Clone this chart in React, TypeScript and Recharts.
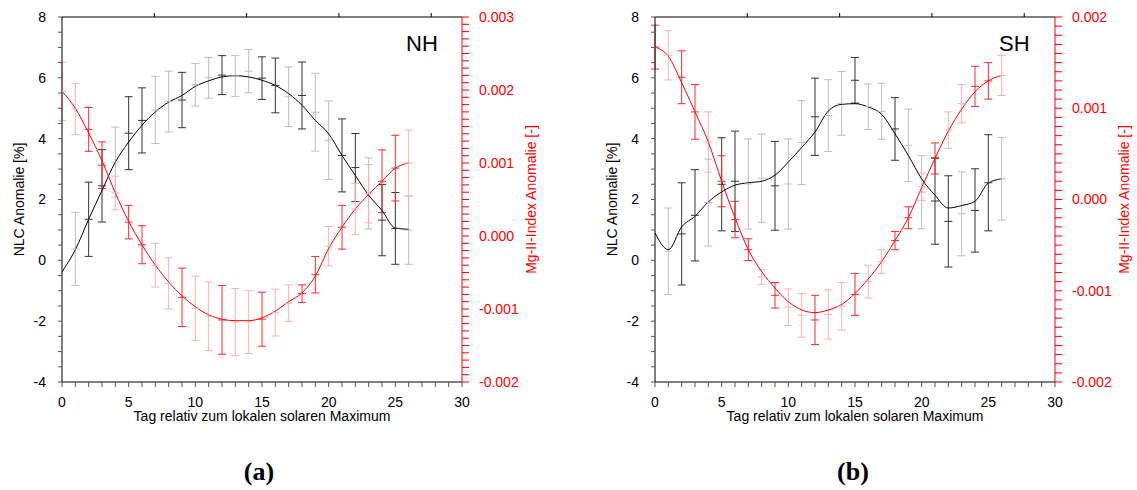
import { ComposedChart, Line, Scatter, ErrorBar, XAxis, YAxis } from 'recharts';

// Tage relativ zum lokalen solaren Maximum
const days = Array.from({ length: 27 }, (_, i) => i);

// NH: NLC (schwarz)
const nhBlackLine = [-0.38, 0.35, 1.35, 2.3, 3.23, 3.89, 4.44, 4.88, 5.2, 5.42, 5.72, 5.9, 6.03, 6.07, 6.03, 5.92, 5.75, 5.48, 5.1, 4.6, 4.16, 3.45, 2.79, 2.14, 1.64, 1.06, 1.02];
const nhBlackMean = [null, 0.37, 1.35, 2.45, 3.23, 4.18, 4.6, 4.94, 5.22, 5.27, 5.77, 6.0, 6.09, 6.06, 6.22, 5.99, 5.75, 5.38, 5.42, 4.87, 3.95, 3.45, 3.05, 2.2, 1.32, 1.05, 0.99];
const nhBlackErr = [null, 1.2, 1.22, 1.19, 1.15, 1.2, 1.07, 1.1, 1.0, 0.91, 0.7, 0.67, 0.64, 0.67, 0.71, 0.7, 0.9, 0.98, 1.1, 1.28, 1.29, 1.2, 1.12, 1.17, 1.17, 1.18, 1.12];
const nhBlackSig = [0, 0, 1, 1, 0, 1, 1, 0, 0, 1, 0, 0, 1, 0, 0, 1, 1, 0, 1, 0, 0, 1, 1, 0, 1, 1, 0];

// NH: Mg-II (rot)
const nhRedLine = [0.00198, 0.00175, 0.00141, 0.00103, 0.00059, 0.0002, -0.00012, -0.0004, -0.00063, -0.00082, -0.00097, -0.00108, -0.00114, -0.00116, -0.00116, -0.00112, -0.00103, -0.0009, -0.00078, -0.00055, -0.00017, 0.00012, 0.00037, 0.00057, 0.00075, 0.00093, 0.001];
const nhRedMean = [0.00198, 0.00174, 0.00146, 0.00097, 0.00059, 0.00019, -0.00012, -0.0004, -0.00065, -0.00084, -0.00099, -0.0011, -0.00115, -0.00118, -0.00118, -0.00114, -0.00105, -0.00092, -0.00079, -0.00053, -0.00014, 0.00012, 0.00037, 0.00058, 0.00075, 0.00093, 0.001];
const nhRedErr = [0.0004, 0.00035, 0.0003, 0.00032, 0.00023, 0.00023, 0.00026, 0.0003, 0.00035, 0.0004, 0.00044, 0.00047, 0.00047, 0.00046, 0.00043, 0.00037, 0.00032, 0.00025, 0.00012, 0.00025, 0.00027, 0.0003, 0.00035, 0.0004, 0.00043, 0.00045, 0.00045];
const nhRedSig = [0, 0, 1, 1, 0, 1, 1, 0, 0, 1, 0, 0, 1, 0, 0, 1, 0, 0, 1, 1, 0, 1, 0, 0, 1, 1, 0];

// SH: NLC (schwarz)
const shBlackLine = [0.9, 0.35, 1.1, 1.45, 1.92, 2.25, 2.47, 2.55, 2.6, 2.8, 3.23, 3.71, 4.22, 4.91, 5.13, 5.15, 5.04, 4.8, 4.16, 3.45, 2.68, 2.14, 1.72, 1.8, 1.94, 2.54, 2.68];
const shBlackMean = [null, 0.3, 0.87, 1.48, 1.9, 2.5, 2.6, 2.51, 2.7, 2.45, 2.51, 3.87, 4.72, 4.76, 5.16, 5.92, 5.05, 4.9, 4.32, 3.78, 2.24, 1.95, 1.28, 1.53, 1.64, 2.55, 2.68];
const shBlackErr = [null, 1.42, 1.68, 1.5, 1.43, 1.53, 1.65, 1.48, 1.45, 1.46, 1.48, 1.38, 1.27, 1.18, 1.05, 0.75, 0.75, 0.92, 1.03, 1.19, 1.2, 1.42, 1.5, 1.38, 1.37, 1.58, 1.36];
const shBlackSig = [0, 0, 1, 1, 0, 1, 1, 0, 0, 1, 0, 0, 1, 0, 0, 1, 0, 0, 1, 0, 0, 1, 1, 0, 1, 1, 0];

// SH: Mg-II (rot)
const shRedLine = [0.00167, 0.00157, 0.00128, 0.00096, 0.00063, 0.0002, -0.0002, -0.00055, -0.00079, -0.00097, -0.00112, -0.00121, -0.00124, -0.00121, -0.00115, -0.00103, -0.00087, -0.00068, -0.00045, -0.0002, 0.00013, 0.00045, 0.00075, 0.00099, 0.00118, 0.0013, 0.00136];
const shRedMean = [0.00167, 0.00158, 0.00134, 0.00096, 0.00063, 0.0002, -0.00022, -0.00055, -0.00085, -0.00105, -0.00118, -0.00127, -0.00132, -0.00126, -0.00117, -0.00104, -0.0009, -0.00068, -0.00045, -0.0002, 0.00014, 0.00045, 0.00076, 0.00105, 0.00124, 0.0013, 0.00136];
const shRedErr = [0.00024, 0.00027, 0.00029, 0.0003, 0.00033, 0.00028, 0.0002, 0.00012, 0.00008, 0.00014, 0.0002, 0.00024, 0.00027, 0.00027, 0.00026, 0.00023, 0.00018, 0.00013, 0.0001, 0.00012, 0.00015, 0.00017, 0.0002, 0.00021, 0.00022, 0.0002, 0.00022];
const shRedSig = [1, 0, 1, 1, 0, 1, 1, 1, 0, 1, 0, 0, 1, 0, 0, 1, 0, 0, 1, 1, 0, 1, 0, 0, 1, 1, 0];

const xTicks = Array.from({ length: 31 }, (_, i) => i);
const topTicks = [6, 12, 18, 24];
const leftTicks = Array.from({ length: 25 }, (_, i) => -4 + i * 0.5);
const nhRightTicks = Array.from({ length: 51 }, (_, i) => (i - 20) / 10000);
const shRightTicks = Array.from({ length: 41 }, (_, i) => (i - 20) / 10000);

const FONT = '"Liberation Sans", Arial, Helvetica, sans-serif';
const RED = '#ff0000';

type Pt = { day: number; mean: number; err: number };

function splitBars(mean: (number | null)[], err: (number | null)[], sig: number[]) {
  const dark: Pt[] = [];
  const light: Pt[] = [];
  days.forEach(d => {
    const m = mean[d];
    const e = err[d];
    if (m == null || e == null) return;
    (sig[d] ? dark : light).push({ day: d, mean: m, err: e });
  });
  return { dark, light };
}

const meanTick = (color: string) => (props: any) => {
  const { cx, cy } = props;
  return <line x1={cx - 4} x2={cx + 4} y1={cy} y2={cy} stroke={color} strokeWidth={1} />;
};

type PanelProps = {
  blackLine: number[];
  blackMean: (number | null)[];
  blackErr: (number | null)[];
  blackSig: number[];
  redLine: number[];
  redMean: number[];
  redErr: number[];
  redSig: number[];
  redDomain: [number, number];
  redTicks: number[];
};

function Panel(p: PanelProps) {
  const data = days.map(d => ({ day: d, black: p.blackLine[d], red: p.redLine[d] }));
  const bb = splitBars(p.blackMean, p.blackErr, p.blackSig);
  const rb = splitBars(p.redMean, p.redErr, p.redSig);
  const tickStyle = { fontSize: 14, fontFamily: FONT };

  const barSeries = (pts: Pt[], color: string, axis: string, key: string) => (
    <Scatter
      key={key}
      data={pts}
      dataKey="mean"
      xAxisId="bottom"
      yAxisId={axis}
      isAnimationActive={false}
      shape={meanTick(color)}
    >
      <ErrorBar dataKey="err" direction="y" width={4} stroke={color} strokeWidth={1} isAnimationActive={false} />
    </Scatter>
  );

  return (
    <ComposedChart width={544} height={440} data={data} margin={{ top: 12, right: 8, bottom: 28, left: 12 }}>
      <XAxis
        xAxisId="bottom"
        dataKey="day"
        type="number"
        domain={[0, 30]}
        ticks={xTicks}
        interval={0}
        height={30}
        tickSize={5}
        tickMargin={10}
        stroke="#000"
        tickLine={{ stroke: '#555' }}
        tick={{ ...tickStyle, fill: '#000' }}
        tickFormatter={(v: number) => (v % 5 === 0 ? String(v) : '')}
        allowDataOverflow
        label={{ value: 'Tag relativ zum lokalen solaren Maximum', position: 'bottom', offset: -1, style: { fontSize: 14, fontFamily: FONT, fill: '#000' } }}
      />
      <XAxis
        xAxisId="top"
        orientation="top"
        type="number"
        domain={[0, 30]}
        ticks={topTicks}
        interval={0}
        height={5}
        tickSize={4}
        stroke="#000"
        tickFormatter={() => ''}
        allowDataOverflow
      />
      <YAxis
        yAxisId="left"
        domain={[-4, 8]}
        ticks={leftTicks}
        interval={0}
        width={50}
        tickSize={4}
        tickMargin={12}
        stroke="#000"
        tickLine={{ stroke: '#555' }}
        tick={{ ...tickStyle, fill: '#000' }}
        tickFormatter={(v: number) => (Math.abs(v % 2) < 1e-9 ? String(v) : '')}
        allowDataOverflow
        label={{ value: 'NLC Anomalie [%]', angle: -90, position: 'insideLeft', offset: 7, style: { textAnchor: 'middle', fontSize: 14, fontFamily: FONT, fill: '#000' } }}
      />
      <YAxis
        yAxisId="right"
        orientation="right"
        domain={p.redDomain}
        ticks={p.redTicks}
        interval={0}
        width={74}
        tickSize={7}
        tickMargin={10}
        stroke={RED}
        tickLine={{ stroke: RED }}
        tick={{ ...tickStyle, fill: RED }}
        tickFormatter={(v: number) => (Math.round(v * 10000) % 10 === 0 ? v.toFixed(3) : '')}
        allowDataOverflow
        label={{ value: 'Mg-II-Index Anomalie [-]', angle: -90, position: 'insideRight', offset: 5, style: { textAnchor: 'middle', fontSize: 14, fontFamily: FONT, fill: RED } }}
      />
      {barSeries(bb.light, '#bdbdbd', 'left', 'bl')}
      {barSeries(bb.dark, '#333333', 'left', 'bd')}
      {barSeries(rb.light, '#ffb0b0', 'right', 'rl')}
      {barSeries(rb.dark, '#ff2a2a', 'right', 'rd')}
      <Line xAxisId="bottom" yAxisId="left" type="monotone" dataKey="black" stroke="#000" strokeWidth={1} dot={false} isAnimationActive={false} />
      <Line xAxisId="bottom" yAxisId="right" type="monotone" dataKey="red" stroke={RED} strokeWidth={1} dot={false} isAnimationActive={false} />
    </ComposedChart>
  );
}

export default function App() {
  const hemi = { position: 'absolute' as const, fontFamily: FONT, fontSize: 22, lineHeight: 1, color: '#000' };
  const sub = { position: 'absolute' as const, width: 100, textAlign: 'center' as const, fontFamily: '"Liberation Serif", "DejaVu Serif", serif', fontWeight: 700, fontSize: 26, lineHeight: 1, color: '#000' };
  return (
    <div style={{ position: 'absolute', left: 0, top: 0, width: 1137, height: 490, background: '#fff', overflow: 'hidden' }}>
      <div style={{ position: 'absolute', left: 0, top: 0 }}>
        <Panel
          blackLine={nhBlackLine}
          blackMean={nhBlackMean}
          blackErr={nhBlackErr}
          blackSig={nhBlackSig}
          redLine={nhRedLine}
          redMean={nhRedMean}
          redErr={nhRedErr}
          redSig={nhRedSig}
          redDomain={[-0.002, 0.003]}
          redTicks={nhRightTicks}
        />
      </div>
      <div style={{ position: 'absolute', left: 593, top: 0 }}>
        <Panel
          blackLine={shBlackLine}
          blackMean={shBlackMean}
          blackErr={shBlackErr}
          blackSig={shBlackSig}
          redLine={shRedLine}
          redMean={shRedMean}
          redErr={shRedErr}
          redSig={shRedSig}
          redDomain={[-0.002, 0.002]}
          redTicks={shRightTicks}
        />
      </div>
      <div style={{ ...hemi, left: 406, top: 33 }}>NH</div>
      <div style={{ ...hemi, left: 999, top: 33 }}>SH</div>
      <div style={{ ...sub, left: 209, top: 459 }}>(a)</div>
      <div style={{ ...sub, left: 803, top: 459 }}>(b)</div>
    </div>
  );
}
